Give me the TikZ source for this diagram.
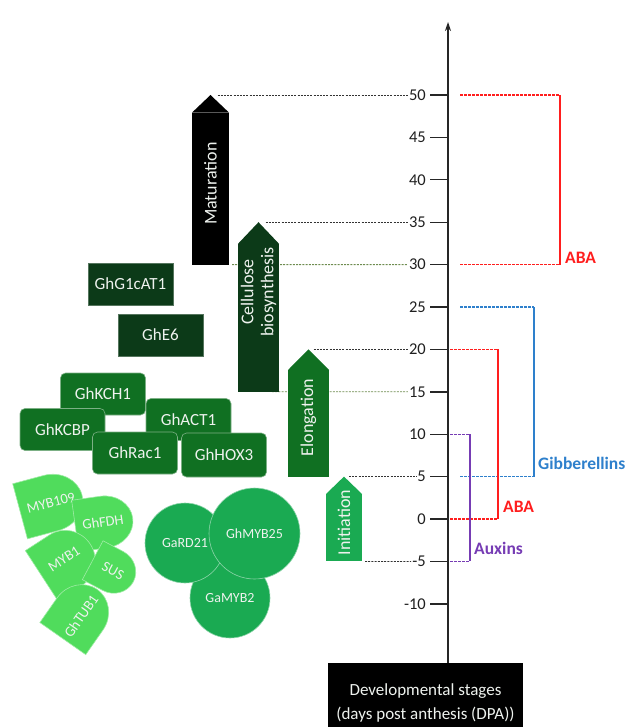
\documentclass[tikz,border=0pt]{standalone}
\usepackage{fontspec}
\setmainfont{Carlito}
\usepackage{tikz}
\usetikzlibrary{arrows.meta,positioning}

\definecolor{darkgreen}{RGB}{12,58,24}
\definecolor{midgreen}{RGB}{16,112,34}
\definecolor{brightgreen}{RGB}{26,170,82}
\definecolor{lightgreen}{RGB}{80,220,92}
\definecolor{txtwhite}{RGB}{238,242,238}
\definecolor{abared}{RGB}{255,30,30}
\definecolor{gibblue}{RGB}{46,128,204}
\definecolor{auxpurple}{RGB}{118,60,180}
\definecolor{guidegreen}{RGB}{110,140,80}

\begin{document}
\begin{tikzpicture}[x=1pt, y=-1pt,
  font=\fontsize{17}{20}\selectfont,
  ticklab/.style={anchor=east, inner sep=1pt, font=\fontsize{16.5}{18}\selectfont, text=black!88},
  tick/.style={line width=1.4pt, black!85},
  axis/.style={line width=1.4pt, black!85, -{Stealth[length=9pt,width=6pt]}},
  guide/.style={dash pattern=on 2pt off 1.2pt, line width=0.8pt, black!80},
  guidegrn/.style={guide, guidegreen},
  stagebody/.style={inner sep=0pt, outer sep=0pt, anchor=south},
  stagetext/.style={rotate=90, text=txtwhite, align=center, font=\fontsize{18}{20}\selectfont},
  gene/.style={rectangle, minimum width=85pt, minimum height=42pt, text=txtwhite, inner sep=0pt},
  genedark/.style={gene, fill=darkgreen, draw=darkgreen!70!white, line width=0.5pt},
  genemid/.style={gene, fill=midgreen, draw=midgreen!55!white, line width=0.6pt, rounded corners=5pt},
  blob/.style={fill=lightgreen, draw=lightgreen!55!white, line width=0.6pt},
  blobtext/.style={text=txtwhite, font=\fontsize{14.5}{16}\selectfont, inner sep=0pt},
  circ/.style={circle, fill=brightgreen, draw=brightgreen!50!white, line width=0.6pt,
               text=txtwhite, font=\fontsize{14}{16}\selectfont, inner sep=0pt},
  bracket/.style={line width=1.2pt},
  hdash/.style={bracket, dash pattern=on 2.5pt off 1.5pt},
  hlab/.style={font=\fontsize{17.5}{20}\selectfont\bfseries, inner sep=0pt, anchor=south west},
]
\useasboundingbox (0,0) rectangle (632,727);

% axis ticks and values
\foreach \v in {50,45,...,-10}{
  \pgfmathsetmacro\yy{519-8.48*\v}
  \coordinate (a\v) at (448,\yy);
  \draw[tick] (a\v) -- ++(-18,0);
  \node[ticklab] (t\v) at ([xshift=-21pt]a\v) {\v};
}

% bottom box and axis
\node[fill=black, text=txtwhite, minimum width=195pt, minimum height=80pt, align=center,
      anchor=north, inner sep=0pt, font=\fontsize{17}{24}\selectfont] (dev) at (425.5,663)
      {Developmental stages\\(days post anthesis (DPA))};
\coordinate (axTop) at (448,22);
\draw[axis] (dev.north -| a0) -- (axTop);

% stage arrows
\node[stagebody, fill=black, minimum width=37pt, minimum height=152pt] (mat) at (210.5,264.6) {};
\node[stagebody, fill=darkgreen, minimum width=41pt, minimum height=148pt] (cel) at (258.5,391.8) {};
\node[stagebody, fill=midgreen, minimum width=41pt, minimum height=106.6pt] (elo) at (308.5,476.6) {};
\node[stagebody, fill=brightgreen, minimum width=36pt, minimum height=67.4pt] (ini) at (344,561.4) {};
\coordinate (matTip) at (mat.north |- a50);
\coordinate (celTip) at (cel.north |- a35);
\coordinate (eloTip) at (elo.north |- a20);
\coordinate (iniTip) at (ini.north |- a5);

% dashed guides to the scale
\draw[guide] ([xshift=7pt]matTip) -- (t50.west);
\draw[guidegrn] ([xshift=3pt]mat.south east) -- (t30.west);
\draw[guide] ([xshift=7pt]celTip) -- (t35.west);
\draw[guidegrn] ([xshift=-7pt]cel.south east) -- (t15.west);
\draw[guide] ([xshift=5pt]eloTip) -- (t20.west);
\draw[guide] ([xshift=5pt]iniTip) -- (t5.west);
\draw[guide] ([xshift=3pt]ini.south east) -- (t-5.west);

\fill[black] (mat.north west) -- (matTip) -- (mat.north east) -- cycle;
\fill[black] (mat.north west) rectangle (mat.south east);
\fill[darkgreen] (cel.north west) -- (celTip) -- (cel.north east) -- cycle;
\fill[darkgreen] (cel.north west) rectangle (cel.south east);
\fill[midgreen] (elo.north west) -- (eloTip) -- (elo.north east) -- cycle;
\fill[midgreen] (elo.north west) rectangle (elo.south east);
\fill[brightgreen] (ini.north west) -- (iniTip) -- (ini.north east) -- cycle;
\fill[brightgreen] (ini.north west) rectangle (ini.south east);
\node[stagetext] (matlab) at ([yshift=5pt]mat.center) {Maturation};
\node[stagetext] (cellab) at (258.5,292) {Cellulose\\biosynthesis};
\node[stagetext] (elolab) at ([yshift=6pt]elo.center) {Elongation};
\node[stagetext] (inilab) at ([yshift=5pt]ini.center) {Initiation};

% genes
\node[genedark] (g1cat) at (130.5,284) {GhG1cAT1};
\node[genedark] (e6) at (160.5,335) {GhE6};
\node[genemid] (kch1) at (103,394) {GhKCH1};
\node[genemid] (act1) at (188.5,419.5) {GhACT1};
\node[genemid] (kcbp) at (62.5,429.5) {GhKCBP};
\node[genemid] (rac1) at (135,453) {GhRac1};
\node[genemid, minimum height=44pt] (hox3) at (224,455) {GhHOX3};

\begin{scope}[shift={(51,503)}, rotate=15]
  \filldraw[blob] (-32pt,-28.5pt) -- (0pt,-28.5pt) arc[start angle=-90, end angle=90, x radius=32pt, y radius=28.5pt] -- (-32pt,28.5pt) -- cycle;
  \node[blobtext, rotate=15] (myb109) at (0,0) {MYB109};
\end{scope}
\begin{scope}[shift={(104,522)}, rotate=8]
  \filldraw[blob] (-29pt,-26pt) -- (0pt,-26pt) arc[start angle=-90, end angle=90, x radius=29pt, y radius=26pt] -- (-29pt,26pt) -- cycle;
  \node[blobtext, rotate=8] (fdh) at (-1pt,0) {GhFDH};
\end{scope}
\begin{scope}[shift={(66,560)}, rotate=33]
  \filldraw[blob] (-29pt,-30pt) -- (0pt,-30pt) arc[start angle=-90, end angle=90, x radius=29pt, y radius=30pt] -- (-29pt,30pt) -- cycle;
  \node[blobtext, rotate=33] (myb1) at (-1pt,2pt) {MYB1};
\end{scope}
\begin{scope}[shift={(113,571)}, rotate=-28]
  \filldraw[blob] (-23pt,-22pt) -- (0pt,-22pt) arc[start angle=-90, end angle=90, x radius=23pt, y radius=22pt] -- (-23pt,22pt) -- cycle;
  \node[blobtext, rotate=-28] (sus) at (0pt,0) {SUS};
\end{scope}
\begin{scope}[shift={(80,614)}, rotate=55]
  \filldraw[blob] (-30pt,-28pt) -- (0pt,-28pt) arc[start angle=-90, end angle=90, x radius=30pt, y radius=28pt] -- (-30pt,28pt) -- cycle;
  \node[blobtext, rotate=55] (tub1) at (-1pt,-2pt) {GhTUB1};
\end{scope}

\node[circ, minimum size=80pt] (gamyb2) at (230,598) {GaMYB2};
\node[circ, minimum size=80pt] (gard21) at (185,543) {GaRD21};
\node[circ, minimum size=91pt] (ghmyb25) at (254.5,533.5) {GhMYB25};

% hormones
\draw[hdash, abared] ([xshift=12pt]a50) -- ([xshift=112pt]a50);
\draw[bracket, abared] ([xshift=112pt]a50) -- ([xshift=112pt]a30);
\draw[hdash, abared] ([xshift=12pt]a30) -- ([xshift=112pt]a30);
\node[hlab, text=abared] (abaTop) at ([xshift=117pt,yshift=1pt]a30) {ABA};

\draw[hdash, gibblue] ([xshift=12pt]a25) -- ([xshift=86pt]a25);
\draw[bracket, gibblue] ([xshift=86pt]a25) -- ([xshift=86pt]a5);
\draw[hdash, gibblue] ([xshift=12pt]a5) -- ([xshift=86pt]a5);
\node[hlab, text=gibblue] (gib) at ([xshift=90pt,yshift=7pt]a5) {Gibberellins};

\draw[hdash, abared] ([xshift=2pt]a20) -- ([xshift=50pt]a20);
\draw[bracket, abared] ([xshift=50pt]a20) -- ([xshift=50pt]a0);
\draw[hdash, abared] ([xshift=2pt]a0) -- ([xshift=50pt]a0);
\node[hlab, text=abared] (abaLow) at ([xshift=55pt,yshift=6pt]a0) {ABA};

\draw[hdash, auxpurple] ([xshift=2pt]a10) -- ([xshift=22pt]a10);
\draw[bracket, auxpurple] ([xshift=22pt]a10) -- ([xshift=22pt]a-5);
\draw[hdash, auxpurple] ([xshift=2pt]a-5) -- ([xshift=22pt]a-5);
\node[hlab, text=auxpurple] (aux) at ([xshift=26pt,yshift=7pt]a-5) {Auxins};
\end{tikzpicture}
\end{document}
